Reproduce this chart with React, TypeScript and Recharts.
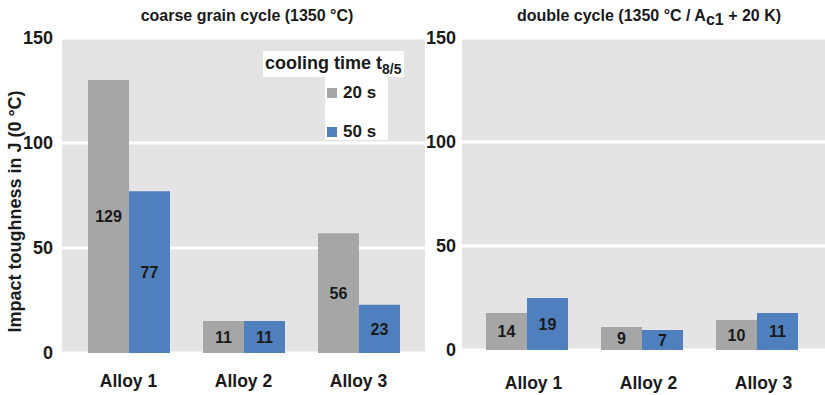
import * as React from 'react'
import { Bar, BarChart, CartesianGrid, LabelList, Legend, XAxis, YAxis } from 'recharts'

const categories = ['Alloy 1', 'Alloy 2', 'Alloy 3']
const seriesNames = ['20 s', '50 s']

// coarse grain cycle — bar heights as drawn, and the printed numbers
const coarseShort = [130, 15.2, 57]
const coarseLong = [77, 15.2, 23]
const coarseShortLabels = [129, 11, 56]
const coarseLongLabels = [77, 11, 23]

// double cycle
const doubleShort = [17.8, 11, 14.4]
const doubleLong = [25, 9.6, 17.8]
const doubleShortLabels = [14, 9, 10]
const doubleLongLabels = [19, 7, 11]

const yTicks = [0, 50, 100, 150]

const FONT = '"Liberation Sans", Arial, sans-serif'
const INK = '#1a1a1a'
const GREY = '#a6a6a6'
const BLUE = '#4f7fbc'
const PANEL = '#e4e4e4'

const build = (short: number[], long: number[], sl: number[], ll: number[]) =>
  categories.map((name, i) => ({
    name,
    short: short[i],
    long: long[i],
    shortLabel: sl[i],
    longLabel: ll[i],
  }))

const coarseData = build(coarseShort, coarseLong, coarseShortLabels, coarseLongLabels)
const doubleData = build(doubleShort, doubleLong, doubleShortLabels, doubleLongLabels)

const YTitle = (props: any) => {
  const vb = props.viewBox || { x: 0, y: 0, width: 0, height: 0 }
  const x = vb.x + 15
  const y = vb.y + vb.height / 2 + 16
  return (
    <text
      x={x}
      y={y}
      transform={`rotate(-90, ${x}, ${y})`}
      textAnchor="middle"
      dominantBaseline="central"
      fontFamily={FONT}
      fontWeight="bold"
      fontSize={18}
      fill={INK}
    >
      Impact toughness in J (0 °C)
    </text>
  )
}

function CoolingLegend({ payload }: any) {
  const items = payload || []
  return (
    <div style={{ position: 'relative', width: 141, height: 89, fontFamily: FONT, fontWeight: 'bold', color: INK }}>
      <div
        style={{
          background: '#fff',
          width: 141,
          height: 26,
          fontSize: 18,
          lineHeight: '24px',
          paddingLeft: 2,
          boxSizing: 'border-box',
          whiteSpace: 'nowrap',
        }}
      >
        cooling time t<sub style={{ fontSize: 14, lineHeight: 0 }}>8/5</sub>
      </div>
      <div style={{ position: 'absolute', left: 62, top: 26, width: 63, height: 63, background: '#fff' }}>
        {items.map((p: any, i: number) => (
          <div
            key={p.value}
            style={{
              position: 'absolute',
              left: 2,
              top: i === 0 ? 7 : 46,
              height: 18,
              display: 'flex',
              alignItems: 'center',
              fontSize: 17,
              whiteSpace: 'nowrap',
            }}
          >
            <span style={{ display: 'inline-block', width: 10, height: 10, background: p.color, marginRight: 6 }} />
            {p.value}
          </div>
        ))}
      </div>
    </div>
  )
}

type PanelProps = {
  data: any[]
  width: number
  top: number
  axisHeight: number
  rightMargin: number
  padding: { left: number; right: number }
  yTickMargin: number
  xTickMargin: number
  xDx?: number
  withYTitle?: boolean
  withLegend?: boolean
}

function Panel(p: PanelProps) {
  const labelStyle = { fontFamily: FONT, fontWeight: 'bold', fontSize: 16, fill: INK }
  return (
    <BarChart
      width={p.width}
      height={395}
      data={p.data}
      margin={{ top: p.top, right: p.rightMargin, bottom: 0, left: 0 }}
      barGap={0}
      barSize={41}
    >
      <CartesianGrid vertical={false} stroke="#fff" strokeWidth={3} fill={PANEL} fillOpacity={1} />
      <XAxis
        dataKey="name"
        height={p.axisHeight}
        axisLine={false}
        tickLine={false}
        tickSize={0}
        tickMargin={p.xTickMargin}
        padding={p.padding}
        tick={{ fontFamily: FONT, fontWeight: 'bold', fontSize: 17.5, fill: INK, dx: p.xDx || 0 }}
      />
      <YAxis
        width={62}
        domain={[0, 150]}
        ticks={yTicks}
        axisLine={false}
        tickLine={false}
        tickSize={0}
        tickMargin={p.yTickMargin}
        tick={{ fontFamily: FONT, fontWeight: 'bold', fontSize: 18, fill: INK }}
        label={p.withYTitle ? <YTitle /> : undefined}
      />
      {p.withLegend && (
        <Legend
          layout="vertical"
          align="center"
          verticalAlign="middle"
          content={<CoolingLegend />}
          wrapperStyle={{ top: 51, left: 263, width: 141, height: 89 }}
        />
      )}
      <Bar dataKey="short" name={seriesNames[0]} fill={GREY} isAnimationActive={false}>
        <LabelList dataKey="shortLabel" position="center" style={labelStyle} />
      </Bar>
      <Bar dataKey="long" name={seriesNames[1]} fill={BLUE} isAnimationActive={false}>
        <LabelList dataKey="longLabel" position="center" style={labelStyle} />
      </Bar>
    </BarChart>
  )
}

const titleStyle: React.CSSProperties = {
  position: 'absolute',
  top: 7,
  fontFamily: FONT,
  fontWeight: 'bold',
  fontSize: 16,
  color: INK,
  whiteSpace: 'nowrap',
  transform: 'translateX(-50%)',
}

export default function App() {
  return (
    <div style={{ position: 'absolute', left: 0, top: 0, width: 825, height: 395, background: '#fff', overflow: 'hidden' }}>
      <div style={{ position: 'absolute', left: 0, top: 0 }}>
        <Panel
          data={coarseData}
          width={440}
          top={38}
          axisHeight={42}
          rightMargin={15}
          padding={{ left: 9, right: 9 }}
          yTickMargin={9}
          xTickMargin={22}
          withYTitle
          withLegend
        />
      </div>
      <div style={{ position: 'absolute', left: 400, top: 0 }}>
        <Panel
          data={doubleData}
          width={425}
          top={38}
          axisHeight={45}
          rightMargin={0}
          padding={{ left: 7, right: 11 }}
          yTickMargin={6}
          xTickMargin={27}
          xDx={7}
        />
      </div>
      <div style={{ ...titleStyle, left: 247 }}>coarse grain cycle (1350 °C)</div>
      <div style={{ ...titleStyle, left: 649 }}>
        double cycle (1350 °C / A<sub style={{ fontSize: 16, lineHeight: 0 }}>c1</sub> + 20 K)
      </div>
    </div>
  )
}
